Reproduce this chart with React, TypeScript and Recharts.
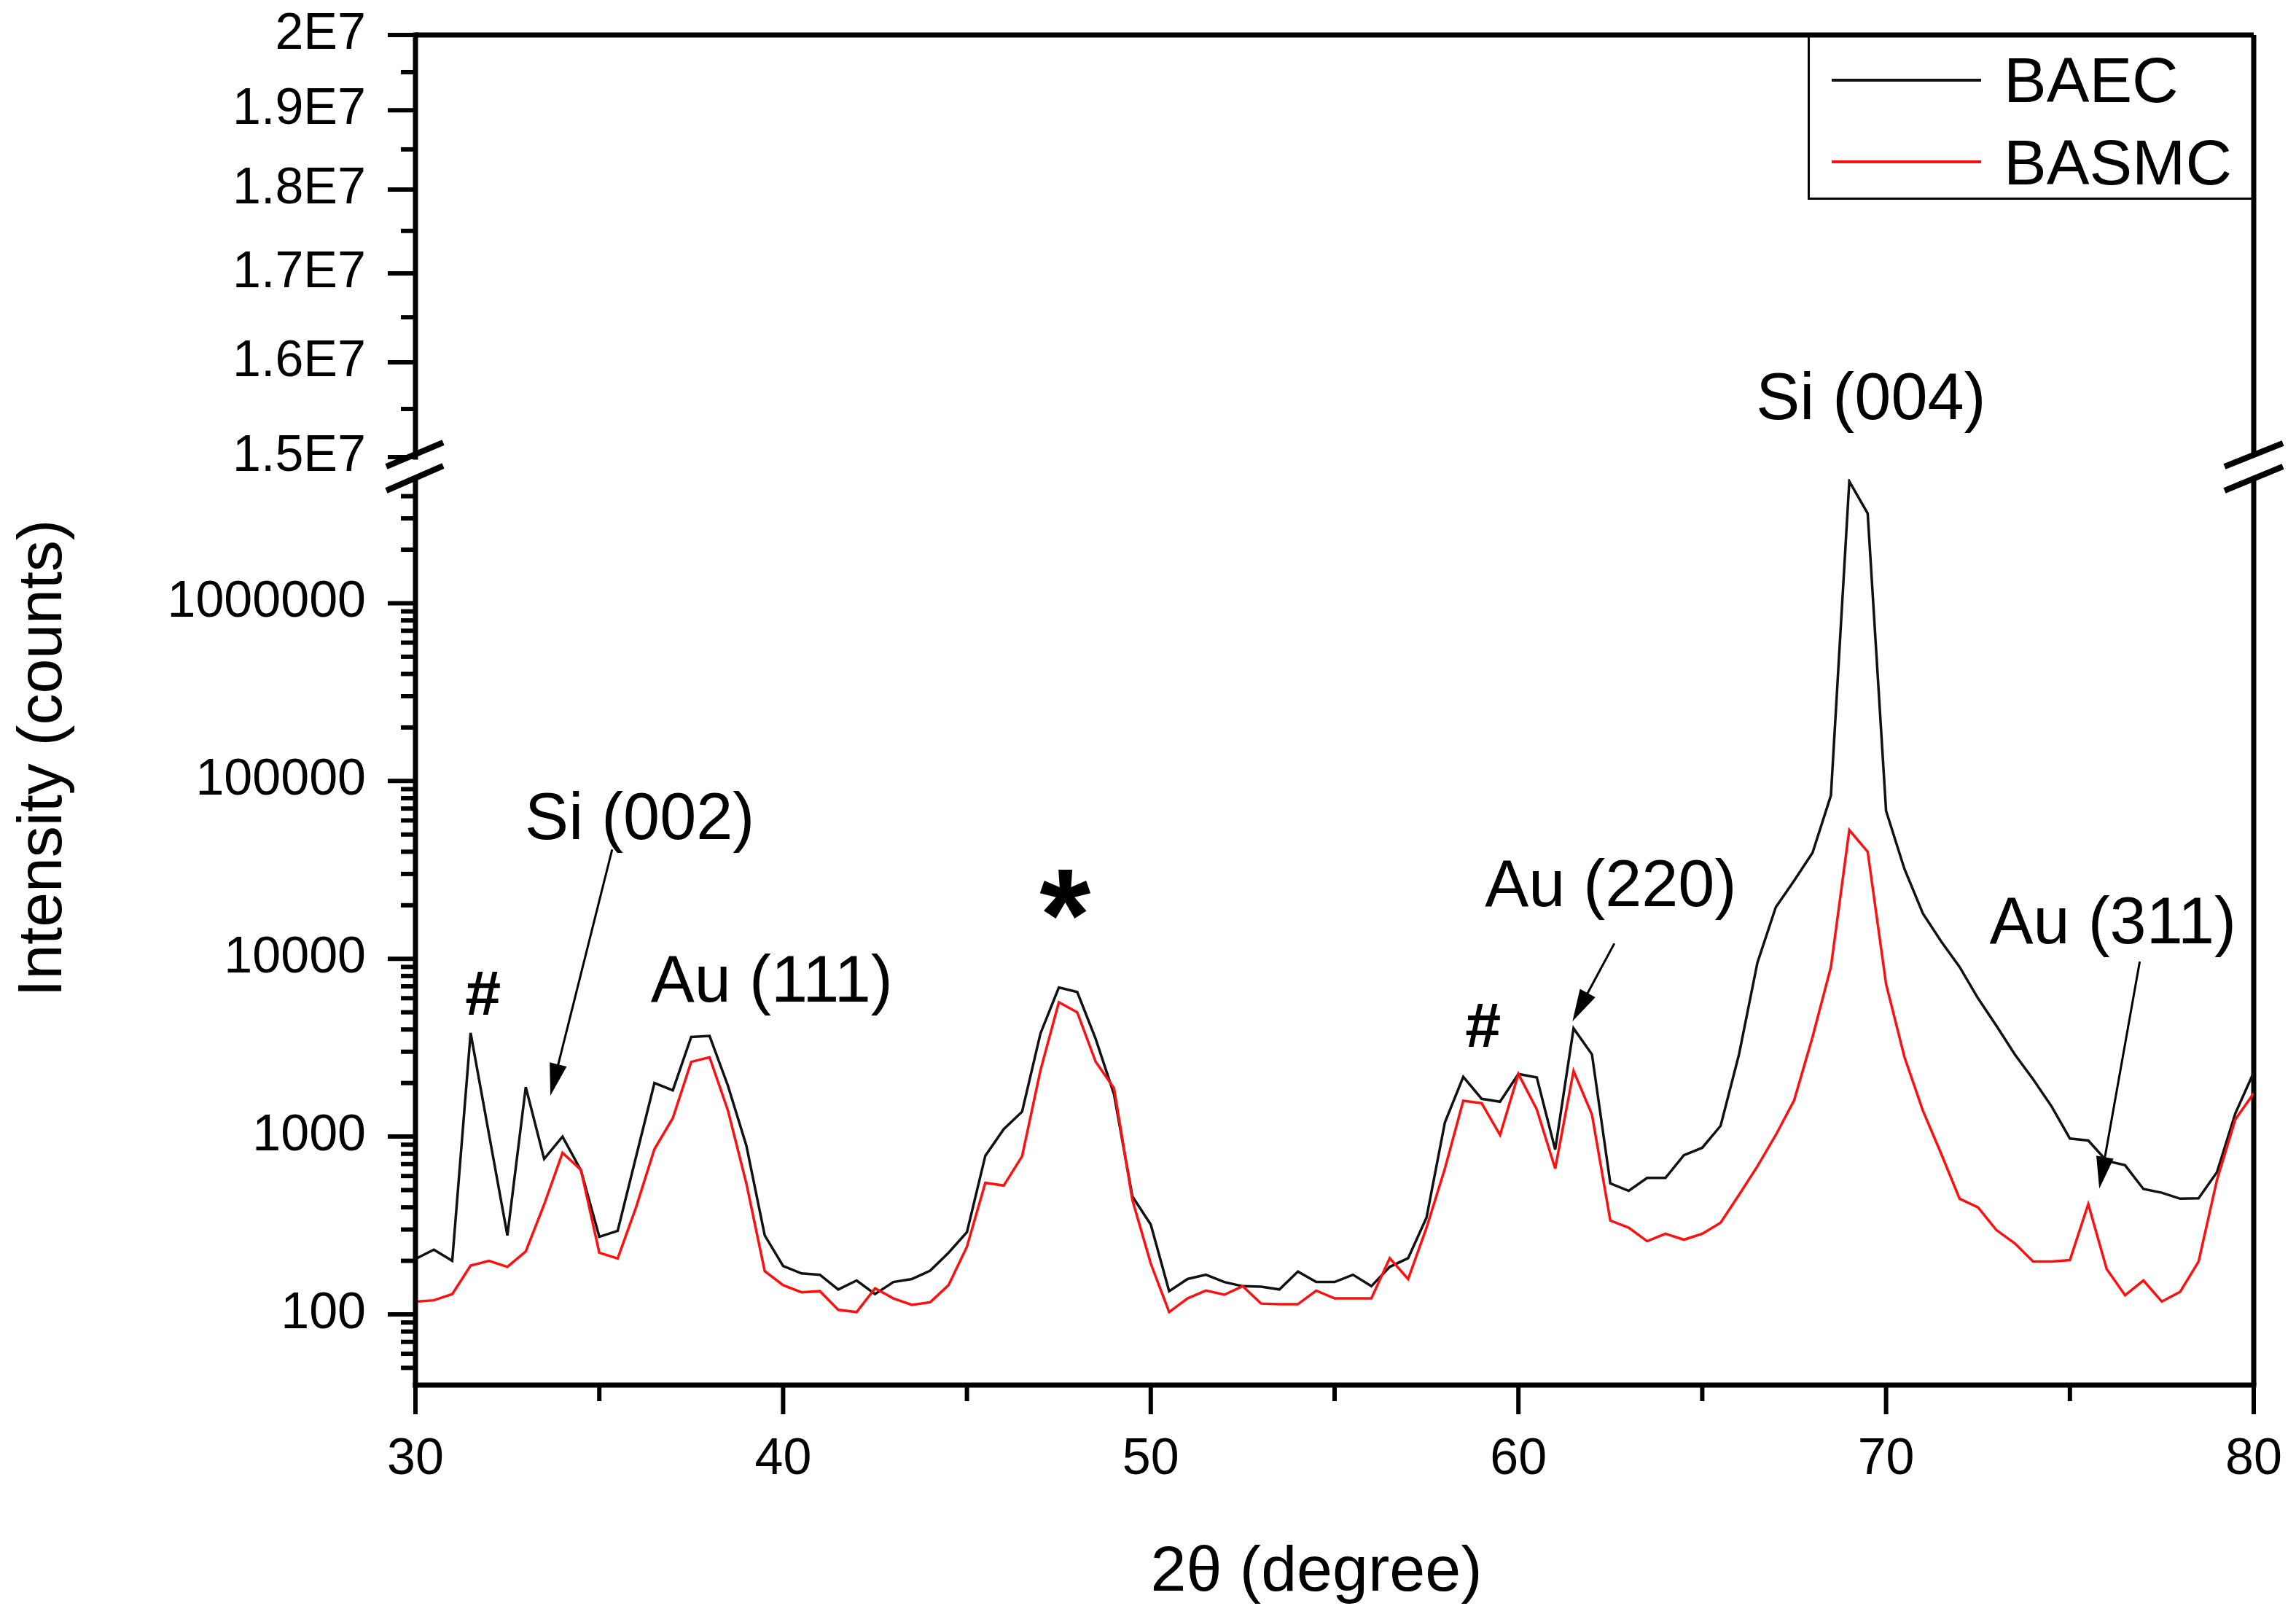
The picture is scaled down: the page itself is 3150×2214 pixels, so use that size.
import React from 'react';
import { LineChart, Line, XAxis, YAxis, ReferenceLine, ReferenceDot, Legend } from 'recharts';

const FONT = '"Liberation Sans", Arial, Helvetica, sans-serif';

// ---- data (2θ in degrees, intensity in counts), 0.5° steps ----
const angle = [30.0, 30.5, 31.0, 31.5, 32.0, 32.5, 33.0, 33.5, 34.0, 34.5, 35.0, 35.5, 36.0, 36.5, 37.0, 37.5, 38.0, 38.5, 39.0, 39.5, 40.0, 40.5, 41.0, 41.5, 42.0, 42.5, 43.0, 43.5, 44.0, 44.5, 45.0, 45.5, 46.0, 46.5, 47.0, 47.5, 48.0, 48.5, 49.0, 49.5, 50.0, 50.5, 51.0, 51.5, 52.0, 52.5, 53.0, 53.5, 54.0, 54.5, 55.0, 55.5, 56.0, 56.5, 57.0, 57.5, 58.0, 58.5, 59.0, 59.5, 60.0, 60.5, 61.0, 61.5, 62.0, 62.5, 63.0, 63.5, 64.0, 64.5, 65.0, 65.5, 66.0, 66.5, 67.0, 67.5, 68.0, 68.5, 69.0, 69.5, 70.0, 70.5, 71.0, 71.5, 72.0, 72.5, 73.0, 73.5, 74.0, 74.5, 75.0, 75.5, 76.0, 76.5, 77.0, 77.5, 78.0, 78.5, 79.0, 79.5, 80.0];

const baecCounts = [205, 231, 200, 3830, 1030, 278, 1900, 748, 1000, 645, 273, 295, 770, 2000, 1820, 3630, 3680, 1930, 890, 278, 187, 170, 167, 138, 155, 130, 152, 158, 176, 222, 290, 780, 1100, 1380, 3800, 6900, 6500, 3550, 1730, 460, 320, 135, 158, 167, 152, 144, 143, 138, 174, 152, 152, 167, 144, 185, 207, 350, 1200, 2170, 1630, 1570, 2250, 2150, 845, 4060, 2900, 545, 495, 585, 585, 785, 865, 1150, 2900, 9500, 19500, 27500, 39500, 83000, 4850000, 3200000, 68000, 32000, 18000, 12500, 9000, 6000, 4200, 2900, 2100, 1480, 975, 950, 730, 690, 507, 483, 447, 450, 630, 1350, 2300];

const basmcCounts = [118, 120, 130, 188, 200, 185, 226, 415, 810, 650, 222, 206, 400, 850, 1270, 2630, 2790, 1400, 545, 175, 146, 133, 135, 106, 103, 140, 123, 113, 117, 146, 240, 550, 530, 775, 2360, 5700, 5000, 2640, 1870, 440, 193, 103, 123, 136, 129, 144, 115, 114, 114, 136, 123, 123, 123, 207, 158, 307, 660, 1590, 1540, 1020, 2250, 1420, 660, 2340, 1330, 337, 307, 258, 284, 263, 284, 328, 470, 680, 1020, 1600, 3630, 9000, 53000, 40000, 7200, 2800, 1400, 800, 447, 400, 298, 251, 198, 198, 202, 417, 180, 128, 155, 118, 134, 198, 570, 1250, 1750];

// ---- ticks ----
const xMajorTicks = [30, 40, 50, 60, 70, 80];
const xTickLabels = ['30', '40', '50', '60', '70', '80'];
const xMinorTicks = [35, 45, 55, 65, 75];

const lowerMajorTicks = [100, 1000, 10000, 100000, 1000000];
const lowerTickLabels = ['100', '1000', '10000', '100000', '1000000'];
const lowerMinorTicks = [50, 60, 70, 80, 90, 200, 300, 400, 500, 600, 700, 800, 900, 2000, 3000, 4000, 5000, 6000, 7000, 8000, 9000, 20000, 30000, 40000, 50000, 60000, 70000, 80000, 90000, 200000, 300000, 400000, 500000, 600000, 700000, 800000, 900000, 2000000, 3000000, 4000000];

const upperMajorTicks = [15000000, 16000000, 17000000, 18000000, 19000000, 20000000];
const upperTickLabels = ['1.5E7', '1.6E7', '1.7E7', '1.8E7', '1.9E7', '2E7'];
const upperMinorTicks = [15500000, 16500000, 17500000, 18500000, 19500000];

// ---- annotations (text baseline anchored at x, y) ----
const lowerAnnotations = [
  { text: '#', x: 31.84, y: 4830, size: 88, bold: true },
  { text: 'Si (002)', x: 36.1, y: 47000, size: 90, bold: false },
  { text: 'Au (111)', x: 39.69, y: 5730, size: 90, bold: false },
  { text: '*', x: 47.67, y: 9820, size: 180, bold: true },
  { text: '#', x: 59.04, y: 3190, size: 88, bold: true },
  { text: 'Au (220)', x: 62.51, y: 19700, size: 90, bold: false },
  { text: 'Au (311)', x: 76.17, y: 12190, size: 90, bold: false },
];
const upperAnnotations = [{ text: 'Si (004)', x: 69.59, y: 15390000, size: 90, bold: false }];

const arrowStart = [
  { x: 35.35, y: 41200 },
  { x: 62.61, y: 12200 },
  { x: 76.9, y: 9640 },
];
const arrowTip = [
  { x: 33.67, y: 1700 },
  { x: 61.47, y: 4450 },
  { x: 75.8, y: 509 },
];

const baecData = angle.map((a, i) => ({ angle: a, counts: baecCounts[i] }));
const basmcData = angle.map((a, i) => ({ angle: a, counts: basmcCounts[i] }));

const makeYTick = (majors: number[], labels: string[]) => (props: any) => {
  const { x, y, payload } = props;
  const idx = majors.indexOf(payload.value);
  const major = idx >= 0;
  return (
    <g>
      <line x1={x - (major ? 38 : 20)} x2={x} y1={y} y2={y} stroke="#000" strokeWidth={6} />
      {major && (
        <text x={x - 68} y={y + 19} textAnchor="end" fontSize={70} fontFamily={FONT} fill="#000">
          {labels[idx]}
        </text>
      )}
    </g>
  );
};

const XTick = (props: any) => {
  const { x, y, payload } = props;
  const idx = xMajorTicks.indexOf(payload.value);
  const major = idx >= 0;
  return (
    <g>
      <line x1={x} x2={x} y1={y} y2={y + (major ? 40 : 22)} stroke="#000" strokeWidth={6} />
      {major && (
        <text x={x} y={y + 122} textAnchor="middle" fontSize={70} fontFamily={FONT} fill="#000">
          {xTickLabels[idx]}
        </text>
      )}
    </g>
  );
};

const annoLabel = (a: any) => (props: any) => {
  const vb = props.viewBox || {};
  const cx = (vb.x || 0) + (vb.width || 0) / 2;
  const cy = (vb.y || 0) + (vb.height || 0) / 2;
  return (
    <text x={cx} y={cy} textAnchor="middle" fontSize={a.size} fontWeight={a.bold ? 'bold' : 'normal'} fontFamily={FONT} fill="#000">
      {a.text}
    </text>
  );
};

const arrowShape = (props: any) => {
  const { x1, y1, x2, y2 } = props;
  const dx = x2 - x1;
  const dy = y2 - y1;
  const len = Math.hypot(dx, dy) || 1;
  const ux = dx / len;
  const uy = dy / len;
  const hl = 44;
  const hw = 12;
  const bx = x2 - ux * hl;
  const by = y2 - uy * hl;
  return (
    <g>
      <line x1={x1} y1={y1} x2={bx + ux * 4} y2={by + uy * 4} stroke="#000" strokeWidth={3} />
      <polygon points={`${x2},${y2} ${bx - uy * hw},${by + ux * hw} ${bx + uy * hw},${by - ux * hw}`} fill="#000" />
    </g>
  );
};

const LegendBox = (props: any) => {
  const payload = props.payload || [];
  return (
    <svg width={612} height={226} style={{ display: 'block', overflow: 'visible' }}>
      <rect x={1.5} y={1.5} width={609} height={223} fill="none" stroke="#000" strokeWidth={3} />
      {payload.map((p: any, i: number) => (
        <g key={i}>
          <line x1={33} x2={238} y1={62 + 112 * i} y2={62 + 112 * i} stroke={p.color} strokeWidth={4} />
          <text x={269} y={92 + 113 * i} fontSize={88} fontFamily={FONT} fill="#000">
            {p.value}
          </text>
        </g>
      ))}
    </svg>
  );
};

const YTitle = (props: any) => {
  const vb = props.viewBox || { x: 0, y: 0 };
  const x = vb.x + 84;
  const y = vb.y + 383;
  return (
    <text x={x} y={y} transform={`rotate(-90, ${x}, ${y})`} textAnchor="middle" fontSize={86} fontFamily={FONT} fill="#000">
      Intensity (counts)
    </text>
  );
};

const XTitle = (props: any) => {
  const vb = props.viewBox || { x: 0, y: 0, width: 0 };
  const x = vb.x + vb.width / 2 - 25;
  const y = vb.y + 282;
  return (
    <text x={x} y={y} textAnchor="middle" fontSize={88} fontFamily={FONT} fill="#000">
      2θ (degree)
    </text>
  );
};

const axisLineStyle = { stroke: '#000', strokeWidth: 7, strokeLinecap: 'square' as const };

export default function App() {
  return (
    <div style={{ position: 'absolute', left: 0, top: 0, width: 3150, height: 2214, background: '#fff', overflow: 'hidden' }}>
      <div style={{ position: 'absolute', left: 0, top: 0 }}>
        <LineChart width={3150} height={2214} margin={{ top: 657, right: 58, bottom: 0, left: 0 }}>
          <XAxis
            type="number"
            dataKey="angle"
            domain={[30, 80]}
            allowDataOverflow
            ticks={[...xMajorTicks, ...xMinorTicks]}
            interval={0}
            height={314}
            tickSize={0}
            tickMargin={0}
            tickLine={false}
            tick={XTick}
            axisLine={axisLineStyle}
            label={XTitle}
          />
          <YAxis
            type="number"
            scale="log"
            domain={[40, 5000000]}
            allowDataOverflow
            ticks={[...lowerMajorTicks, ...lowerMinorTicks]}
            interval={0}
            width={570}
            tickSize={0}
            tickMargin={0}
            tickLine={false}
            tick={makeYTick(lowerMajorTicks, lowerTickLabels)}
            axisLine={axisLineStyle}
            label={YTitle}
          />
          <ReferenceLine x={80} stroke="#000" strokeWidth={7} ifOverflow="visible" />
          <Line data={baecData} dataKey="counts" name="BAEC" type="linear" stroke="#111111" strokeWidth={3.5} dot={false} isAnimationActive={false} />
          <Line data={basmcData} dataKey="counts" name="BASMC" type="linear" stroke="#ff1010" strokeWidth={3.5} dot={false} isAnimationActive={false} />
          {arrowStart.map((s, i) => (
            <ReferenceLine key={`ar${i}`} segment={[s, arrowTip[i]]} ifOverflow="visible" shape={arrowShape} />
          ))}
          {lowerAnnotations.map((a, i) => (
            <ReferenceDot key={`an${i}`} x={a.x} y={a.y} r={0} fill="none" stroke="none" ifOverflow="visible" label={annoLabel(a)} />
          ))}
          <Legend
            layout="vertical"
            align="center"
            verticalAlign="middle"
            content={LegendBox}
            wrapperStyle={{ position: 'absolute', left: 2480, top: 48, width: 612, height: 226, margin: 0, padding: 0 }}
          />
        </LineChart>
      </div>
      <div style={{ position: 'absolute', left: 0, top: 0 }}>
        <LineChart width={3150} height={700} margin={{ top: 48, right: 58, bottom: 73, left: 0 }}>
          <XAxis type="number" dataKey="angle" domain={[30, 80]} allowDataOverflow hide />
          <YAxis
            type="number"
            scale="log"
            domain={[15000000, 20000000]}
            allowDataOverflow
            ticks={[...upperMajorTicks, ...upperMinorTicks]}
            interval={0}
            width={570}
            tickSize={0}
            tickMargin={0}
            tickLine={false}
            tick={makeYTick(upperMajorTicks, upperTickLabels)}
            axisLine={axisLineStyle}
          />
          <ReferenceLine y={20000000} stroke="#000" strokeWidth={7} ifOverflow="visible" />
          <ReferenceLine x={80} stroke="#000" strokeWidth={7} ifOverflow="visible" />
          {upperAnnotations.map((a, i) => (
            <ReferenceDot key={`ua${i}`} x={a.x} y={a.y} r={0} fill="none" stroke="none" ifOverflow="visible" label={annoLabel(a)} />
          ))}
        </LineChart>
      </div>
      <svg width={3150} height={2214} style={{ position: 'absolute', left: 0, top: 0, pointerEvents: 'none' }}>
        <g stroke="#000" strokeWidth={8}>
          <line x1={530} y1={640} x2={608} y2={607} />
          <line x1={530} y1={673} x2={608} y2={639} />
          <line x1={3052} y1={640} x2={3132} y2={608} />
          <line x1={3052} y1={673} x2={3132} y2={640} />
        </g>
      </svg>
    </div>
  );
}
